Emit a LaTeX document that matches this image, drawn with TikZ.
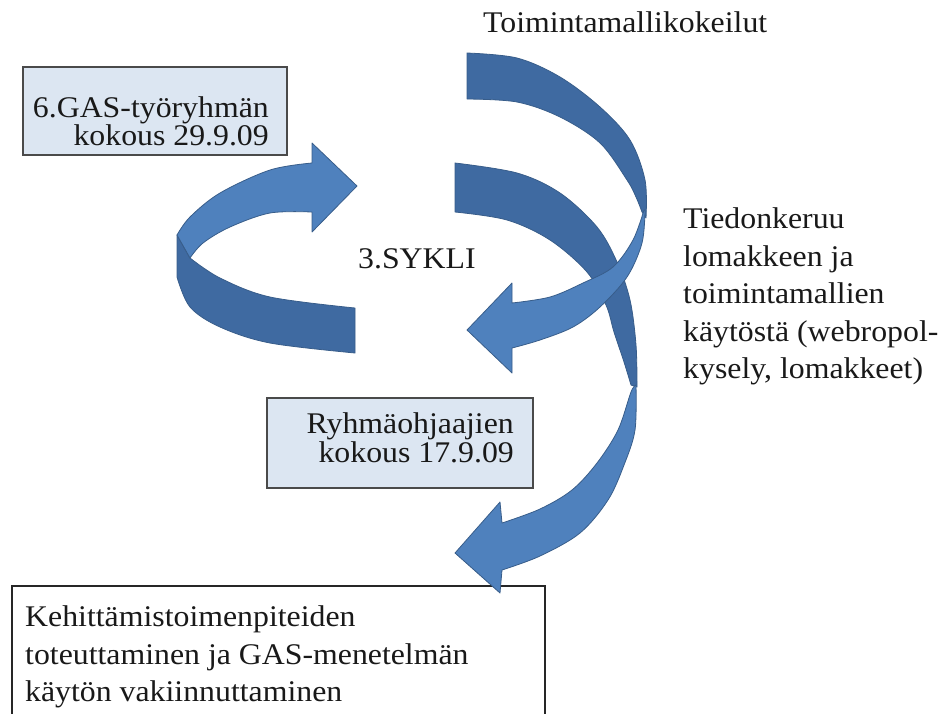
\documentclass[tikz,border=0pt]{standalone}
\usepackage{fontspec}
\setmainfont{Liberation Serif}[FakeStretch=1.06]

\definecolor{facelight}{HTML}{4F81BD}
\definecolor{facedark}{HTML}{3F6AA1}
\definecolor{rim}{HTML}{385D8A}
\definecolor{notefill}{HTML}{DCE6F2}
\definecolor{noteline}{HTML}{4A4A4A}

\tikzset{
  lightface/.style={fill=facelight, draw=rim, line width=0.8pt, line join=round},
  darkface/.style={fill=facedark, draw=rim, line width=0.8pt, line join=round},
  notebox/.style={draw=noteline, fill=notefill, line width=1.3pt, inner sep=0pt},
  plainbox/.style={draw=black!85, fill=white, line width=1.1pt, inner sep=0pt},
  txt/.style={inner sep=0pt, font=\fontsize{30}{36}\selectfont, text=black!90},
  curve/.style={smooth, tension=0.55},
}

\begin{document}
\begin{tikzpicture}[x=1pt, y=-1pt]
\useasboundingbox (0,0) rectangle (941,713);

% boxes
\node[notebox, minimum width=264pt, minimum height=88pt] (gasbox) at (155,111) {};
\node[notebox, minimum width=266pt, minimum height=90pt] (ohjbox) at (400,443) {};
\node[plainbox, minimum width=533pt, minimum height=144pt] (kehbox) at (278.5,658) {};

% lower spiral arrow (back face, then front face with head)
\filldraw[darkface]
  plot[curve] coordinates {(455,163) (517,173) (560,193) (597,227) (617,262) (630,300) (636,345) (637,387)}
  -- plot[curve] coordinates {(631,385) (624,362) (614,332) (606,305) (587,272) (550,240) (507,220) (455,212)}
  -- cycle;
\filldraw[lightface]
  plot[curve] coordinates {(636,385) (635,430) (624,465) (608,500) (580,533) (540,556) (502,570)}
  -- (500,593) -- (455,553) -- (500,502) -- (502,523)
  -- plot[curve] coordinates {(502,523) (540,509) (572,490) (597,463) (618,430) (631,392) (636,385)}
  -- cycle;

% upper spiral arrow
\filldraw[darkface]
  plot[curve] coordinates {(467,53) (517,58) (560,77) (600,107) (630,140) (645,180) (646,218)}
  -- plot[curve] coordinates {(642,212) (636,197) (627,180) (600,143) (560,117) (517,102) (467,99)}
  -- cycle;
\filldraw[lightface]
  plot[curve] coordinates {(645,210) (642,243) (627,277) (600,307) (573,327) (540,340) (512,348)}
  -- (512,373) -- (467,330) -- (512,283) -- (512,303)
  -- plot[curve] coordinates {(512,303) (550,297) (583,283) (613,267) (633,240) (644,210)}
  -- cycle;

% left circular arrow
\filldraw[darkface]
  (177,235) -- (177,277)
  -- plot[curve] coordinates {(177,277) (190,307) (220,327) (270,343) (355,353)}
  -- (355,308)
  -- plot[curve] coordinates {(355,308) (270,297) (220,278) (190,258)}
  -- cycle;
\filldraw[lightface]
  (312,212) -- (312,232) -- (357,186) -- (312,143) -- (312,163)
  -- plot[curve] coordinates {(312,163) (270,170) (220,193) (190,217) (177,235)}
  -- (190,258)
  -- plot[curve] coordinates {(190,258) (203,243) (230,227) (270,213) (312,212)}
  -- cycle;

% texts
\node[txt, anchor=base west] (top) at (483,32) {Toimintamallikokeilut};
\node[txt, anchor=base west] (cycle) at (358,268) {3.SYKLI};

\node[txt, anchor=base east] (gas1) at (269,117) {6.GAS-työryhmän};
\node[txt, anchor=base east] (gas2) at (269,145) {kokous 29.9.09};

\node[txt, anchor=base east] (ohj1) at (514,433) {Ryhmäohjaajien};
\node[txt, anchor=base east] (ohj2) at (514,462) {kokous 17.9.09};

\node[txt, anchor=base west] (tie1) at (683,228) {Tiedonkeruu};
\node[txt, anchor=base west] (tie2) at (683,266) {lomakkeen ja};
\node[txt, anchor=base west] (tie3) at (683,303) {toimintamallien};
\node[txt, anchor=base west] (tie4) at (683,341) {käytöstä (webropol-};
\node[txt, anchor=base west] (tie5) at (683,378) {kysely, lomakkeet)};

\node[txt, anchor=base west] (keh1) at (25,626) {Kehittämistoimenpiteiden};
\node[txt, anchor=base west] (keh2) at (25,664) {toteuttaminen ja GAS-menetelmän};
\node[txt, anchor=base west] (keh3) at (25,701) {käytön vakiinnuttaminen};
\end{tikzpicture}
\end{document}
